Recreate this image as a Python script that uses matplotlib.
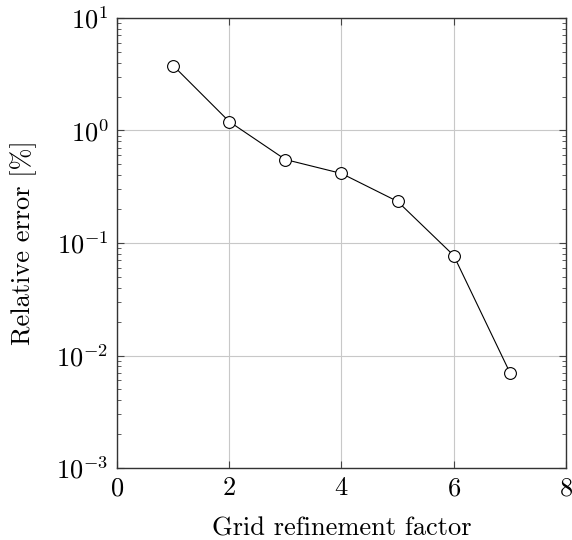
import matplotlib
matplotlib.use('Agg')
import matplotlib.pyplot as plt
from matplotlib.ticker import LogLocator, NullFormatter

# refinement factor vs relative error
refinement = [1, 2, 3, 4, 5, 6, 7]
rel_error = [3.78, 1.20, 0.552, 0.415, 0.234, 0.0774, 0.00706]

plt.rcParams['font.family'] = 'cmr10'
plt.rcParams['mathtext.fontset'] = 'cm'
plt.rcParams['axes.formatter.use_mathtext'] = True
plt.rcParams['font.size'] = 19

fig = plt.figure(figsize=(5.72, 5.4), dpi=100)
ax = fig.add_axes([0.2045, 0.1333, 0.785, 0.8334])

ax.plot(refinement, rel_error, color='black', lw=0.8, marker='o', ms=8.5,
        mfc='white', mec='black', mew=0.8, zorder=3)

ax.set_yscale('log')
ax.set_xlim(0, 8)
ax.set_ylim(1e-3, 1e1)
ax.set_xticks([0, 2, 4, 6, 8])
ax.yaxis.set_major_locator(LogLocator(base=10, numticks=10))
ax.yaxis.set_minor_locator(LogLocator(base=10, subs=range(2, 10), numticks=10))
ax.yaxis.set_minor_formatter(NullFormatter())

ax.grid(True, which='major', color='#c8c8c8', lw=0.8)
ax.tick_params(which='both', direction='in', top=True, right=True, color='#444444')
ax.tick_params(which='major', length=5, width=0.8, pad=6)
ax.tick_params(which='minor', length=3, width=0.6)
for s in ax.spines.values():
    s.set_linewidth(1.0)
    s.set_color('#333333')

ax.set_xlabel('Grid refinement factor', labelpad=12)
ax.set_ylabel('Relative error [%]', labelpad=14)

fig.savefig('out.png', dpi=100)
